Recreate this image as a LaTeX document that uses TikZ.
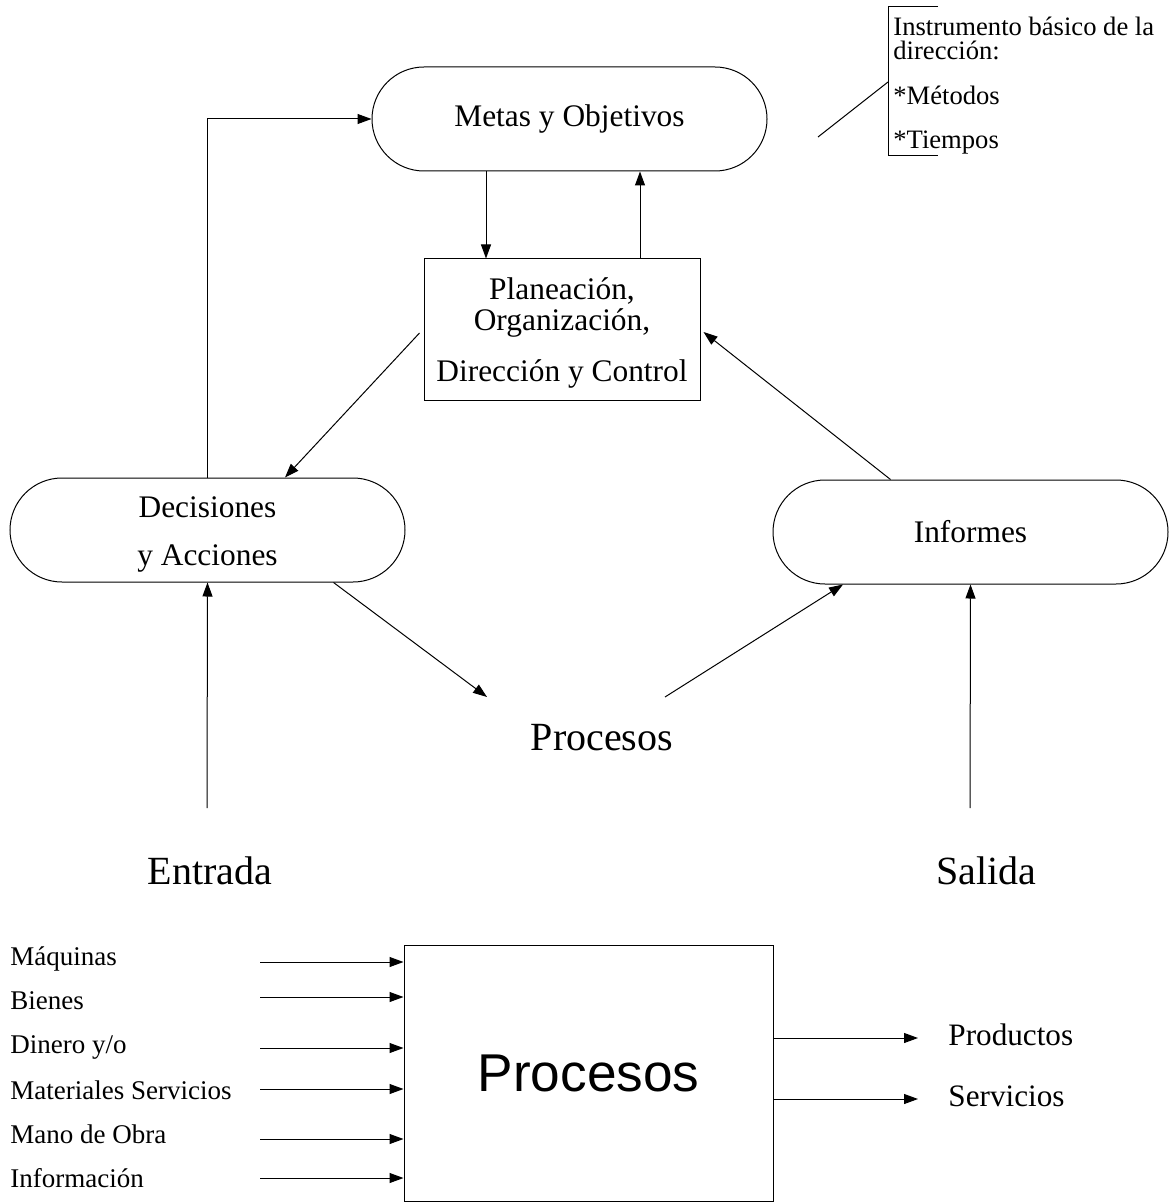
\documentclass[tikz,border=0pt]{standalone}
\usepackage{fontspec}
\setmainfont{Liberation Serif}
\newfontfamily\arialfont{Liberation Sans}
\usetikzlibrary{arrows.meta,shapes.misc}

\begin{document}
\begin{tikzpicture}[x=0.5pt,y=-0.5pt,
    flecha/.style={-{Triangle[length=7pt,width=5pt]},line width=0.5pt},
    linea/.style={line width=0.5pt},
    capsula/.style={draw,rounded rectangle,line width=0.5pt,
        minimum width=197.5pt,minimum height=52pt,inner sep=0pt,align=center,
        font=\fontsize{15.7}{24}\selectfont},
    caja/.style={draw,line width=0.5pt,inner sep=0pt},
    grande/.style={font=\fontsize{20}{24}\selectfont},
    lista/.style={anchor=west,inner sep=0pt,font=\fontsize{13.5}{16}\selectfont}]

    \useasboundingbox (0,0) rectangle (1168,1203);

    % upper cycle
    % nodes
    \node[capsula] (metas) at (569.5,119) {Metas y Objetivos};
    \node[caja,minimum width=138pt,minimum height=70.5pt,align=center,
        font=\fontsize{15.7}{15.5}\selectfont] (plan) at (562,329.5)
        {\rule{0pt}{14pt}Planeación,\\Organización,\\[10pt]Dirección y Control};
    \node[capsula] (decis) at (207.5,530) {\rule{0pt}{15pt}Decisiones\\y Acciones};
    \node[capsula] (informes) at (970.5,532) {Informes};
    \node[grande] (procmed) at (602,738) {Procesos};
    \node[grande] (entrada) at (210,871) {Entrada};
    \node[grande] (salida) at (986,871) {Salida};

    % free ends
    \coordinate (b1) at (486,0);
    \coordinate (b2) at (640,0);
    \coordinate (pin) at (487,697);
    \coordinate (pout) at (665,697);
    \coordinate (e1) at (207,808);
    \coordinate (s1) at (970,808);

    % paths
    \draw[flecha] (decis.north) |- (metas.west); % decisiones -> metas
    \draw[flecha] (metas.south -| b1) -- (plan.north -| b1); % metas -> plan
    \draw[flecha] (plan.north -| b2) -- (metas.south -| b2); % plan -> metas
    \draw[flecha] ([xshift=-2pt,yshift=-1.75pt]plan.west) -- ([xshift=38.75pt]decis.north); % plan -> decisiones
    \draw[flecha] ([xshift=-40pt]informes.north) -- ([xshift=1.5pt,yshift=-1.25pt]plan.east); % informes -> plan
    \draw[flecha] ([xshift=63pt]decis.south) -- (pin); % decisiones -> procesos
    \draw[flecha] (pout) -- ([xshift=-63.75pt]informes.south); % procesos -> informes
    \draw[flecha] (e1) -- (decis.south); % entrada
    \draw[flecha] (s1) -- (informes.south); % salida

    % note
    \node[anchor=base west,inner sep=0pt,align=left,font=\fontsize{13.3}{12}\selectfont] (nota) at (893,149)
        {Instrumento básico de la\\dirección:\\[10.5pt]*Métodos\\[10pt]*Tiempos};
    \coordinate (llave) at (888,82);
    \coordinate (punta) at (818,137);
    \draw[linea] (938,7) -- (888,7) -- (888,156) -- (938,156);
    \draw[linea] (punta) -- (llave);

    % lower block
    \node[caja,minimum width=184.5pt,minimum height=128pt,font=\arialfont\fontsize{26.6}{30}\selectfont]
        (procbox) at (588.5,1073) {Procesos};

    % inputs
    \foreach \etiq/\ye/\yf [count=\i] in {Máquinas/959/962,Bienes/1001/997,{Dinero y/o}/1047/1048,
        Materiales Servicios/1090/1089,Mano de Obra/1134/1139,Información/1178/1178}{
        \node[lista] (ent\i) at (10,\ye) {\etiq};
        \coordinate (f\i) at (260,\yf);
        \draw[flecha] (f\i) -- (f\i -| procbox.west);
    }

    % outputs
    \foreach \etiq/\ys [count=\i] in {Productos/1035,Servicios/1096}{
        \node[lista,font=\fontsize{15.6}{18}\selectfont] (sal\i) at (948,\ys) {\etiq};
        \coordinate (o\i) at (0,\ys+3);
        \draw[flecha] (procbox.east |- o\i) -- ([xshift=-15pt,yshift=-1.5pt]sal\i.west);
    }

\end{tikzpicture}
\end{document}
